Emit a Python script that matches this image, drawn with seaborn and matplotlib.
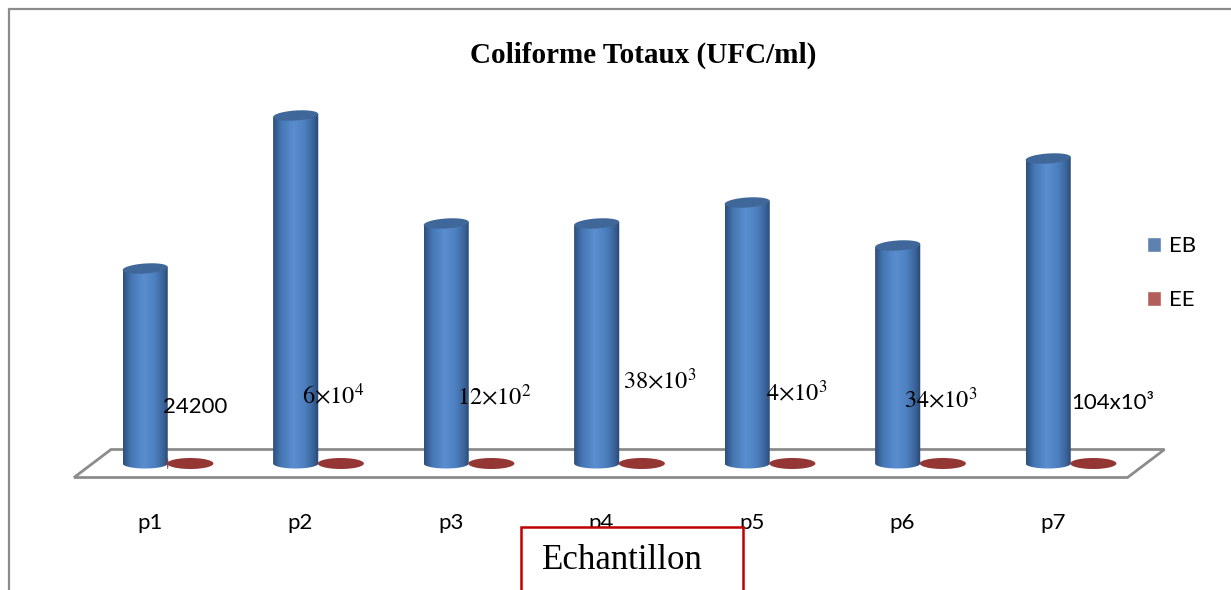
import numpy as np
import pandas as pd
import matplotlib
matplotlib.use("Agg")
import matplotlib.pyplot as plt
import matplotlib.transforms as mtransforms
from matplotlib.patches import Polygon, Rectangle, PathPatch
from matplotlib.path import Path
from matplotlib.lines import Line2D
from matplotlib.colors import LinearSegmentedColormap
import seaborn as sns

# ---- data -------------------------------------------------------------
samples = ["p1", "p2", "p3", "p4", "p5", "p6", "p7"]
eb_values = [195, 348, 240, 240, 261, 218, 305]
ee_values = [0, 0, 0, 0, 0, 0, 0]
series = ["EB", "EE"]
count_labels = ["24200", r"$6{\times}10^4$", r"$12{\times}10^2$", r"$38{\times}10^3$",
                r"$4{\times}10^3$", r"$34{\times}10^3$", "104x10³"]
title = "Coliforme Totaux (UFC/ml)"
axis_title = "Echantillon"

# placement of the free count labels (pixel offsets from each category)
label_dx = [-4.75, -16, -12, 4, -4, -16, 0]
label_dy = [56.5, 68.5, 67.5, 83.5, 71.5, 64.5, 60.5]

# ---- style ------------------------------------------------------------
sns.set_style("white")
plt.rcParams["font.family"] = ["Lato", "DejaVu Sans"]
plt.rcParams["mathtext.fontset"] = "stix"
plt.rcParams["text.color"] = "black"
plt.rcParams["xtick.color"] = "black"
plt.rcParams["xtick.labelcolor"] = "black"
plt.rcParams["legend.labelcolor"] = "black"

W, H, DPI = 1231, 590, 100
fig = plt.figure(figsize=(W / DPI, H / DPI), dpi=DPI)


def fx(px):
    return px / W


def fy(py):
    return 1 - py / H


base_py, top_py, below_px = 463.5, 60.0, 20.0
left_px, right_px = 92.5, 1146.0
ax = fig.add_axes([fx(left_px), fy(base_py + below_px),
                   fx(right_px) - fx(left_px), fy(top_py) - fy(base_py + below_px)])

df = pd.DataFrame({
    "Echantillon": samples * 2,
    "Serie": [series[0]] * len(samples) + [series[1]] * len(samples),
    "Valeur": eb_values + ee_values,
})
palette = {"EB": "#4f81bd", "EE": "#c0504d"}
sns.barplot(data=df, x="Echantillon", y="Valeur", hue="Serie", palette=palette,
            width=0.6, errorbar=None, ax=ax)

xlim = (-0.5, len(samples) - 0.5)
ylim = (-below_px, base_py - top_py)
ax.set_xlim(*xlim)
ax.set_ylim(*ylim)
sns.despine(ax=ax, left=True, bottom=True)
ax.set_yticks([])
ax.set_xlabel("")
ax.set_ylabel("")

# pixel scale of the data axes
p0 = ax.transData.transform((0, 0))
sx = ax.transData.transform((1, 0))[0] - p0[0]
sy = ax.transData.transform((0, 1))[1] - p0[1]

# ---- floor ------------------------------------------------------------
depth = 18.5 / sx
yb, yf = 14 / sy, -14 / sy
floor = Polygon([(xlim[0] - depth, yf), (xlim[0] + depth, yb),
                 (xlim[1] + depth, yb), (xlim[1] - depth, yf)],
                closed=True, fill=False, edgecolor="#8c8c8c", lw=2.0,
                zorder=1, clip_on=False)
ax.add_patch(floor)

# ---- cylinders --------------------------------------------------------
cyl_cmap = LinearSegmentedColormap.from_list(
    "cyl", [(0.0, "#2c4f7c"), (0.18, "#4677b4"), (0.45, "#5a8ed0"),
            (0.7, "#4c7fbf"), (0.88, "#3a6398"), (1.0, "#284670")])
grad = np.linspace(0, 1, 256).reshape(1, -1)
cap_b = 5.0
tilt = np.deg2rad(4)
t = np.linspace(0, 2 * np.pi, 100)

bars = [b for b in ax.patches if b is not floor]
for bar in bars:
    x0, w, h = bar.get_x(), bar.get_width(), bar.get_height()
    cx = x0 + w / 2
    a_px = w * sx / 2
    bar.set_alpha(0)
    if h > 0:
        # body: straight sides with a rounded bottom
        lift = a_px * np.sin(tilt) / sy
        arc_t = np.linspace(np.pi, 2 * np.pi, 40)
        verts = [(x0, h - lift), (x0, 0)]
        verts += [(cx + (w / 2) * np.cos(tt), (cap_b / sy) * np.sin(tt)) for tt in arc_t]
        verts += [(x0 + w, h + lift), (x0, h - lift)]
        codes = [Path.MOVETO] + [Path.LINETO] * (len(verts) - 2) + [Path.CLOSEPOLY]
        body = PathPatch(Path(verts, codes), facecolor="none", edgecolor="none", zorder=2)
        ax.add_patch(body)
        im = ax.imshow(grad, extent=[x0, x0 + w, -cap_b / sy, h + lift], aspect="auto",
                       cmap=cyl_cmap, interpolation="bicubic", zorder=2)
        im.set_clip_path(body)
        # top cap (slightly tilted)
        xs = a_px * np.cos(t) * np.cos(tilt) - cap_b * np.sin(t) * np.sin(tilt)
        ys = a_px * np.cos(t) * np.sin(tilt) + cap_b * np.sin(t) * np.cos(tilt)
        cap = Polygon(np.column_stack([cx + xs / sx, h + ys / sy]), closed=True,
                      facecolor="#40679a", edgecolor="none", zorder=3)
        ax.add_patch(cap)
    else:
        # flat disc for an empty series
        xs = (a_px + 0.5) * np.cos(t)
        ys = 5.5 * np.sin(t)
        disc = Polygon(np.column_stack([cx + xs / sx, h + ys / sy]), closed=True,
                       facecolor="#943634", edgecolor="none", zorder=3)
        ax.add_patch(disc)

ax.set_xlim(*xlim)
ax.set_ylim(*ylim)

# ---- count labels -----------------------------------------------------
for i, lab in enumerate(count_labels):
    math = lab.startswith("$")
    ax.text(i + label_dx[i] / sx, label_dy[i] / sy, lab, ha="left", va="center",
            fontsize=17.5 if math else 16, color="black", zorder=5)

# ---- category ticks ---------------------------------------------------
ax.tick_params(axis="x", length=0, pad=21.5, labelsize=16, labelcolor="black")
shift = mtransforms.ScaledTranslation(-18 / DPI, 0, fig.dpi_scale_trans)
for lbl in ax.get_xticklabels():
    lbl.set_transform(lbl.get_transform() + shift)

# ---- legend -----------------------------------------------------------
sns.move_legend(ax, "upper left", bbox_to_anchor=(fx(1147), fy(236)),
                bbox_transform=fig.transFigure, frameon=False, title=None,
                fontsize=16, handlelength=0.65, handleheight=0.65,
                handletextpad=0.35, labelspacing=1.55, borderpad=0,
                borderaxespad=0)

# ---- title, frame and axis title box ----------------------------------
fig.text(fx(643), fy(55), title, ha="center", va="center", color="black",
         family="Liberation Serif", weight="bold", fontsize=21)

frame_c = "#8c8c8c"
fig.add_artist(Line2D([fx(9), fx(9)], [0, fy(9)], color=frame_c, lw=1.6))
fig.add_artist(Line2D([fx(9), 1], [fy(9), fy(9)], color=frame_c, lw=1.6))

fig.add_artist(Rectangle((fx(521), -0.05), fx(743) - fx(521), fy(527) + 0.05,
                         transform=fig.transFigure, facecolor="white",
                         edgecolor="#c00000", lw=1.8, zorder=5))
fig.text(fx(542), fy(569), axis_title, family="Liberation Serif", fontsize=25,
         va="baseline", ha="left", color="black", zorder=6)

fig.savefig("out.png", dpi=DPI)
